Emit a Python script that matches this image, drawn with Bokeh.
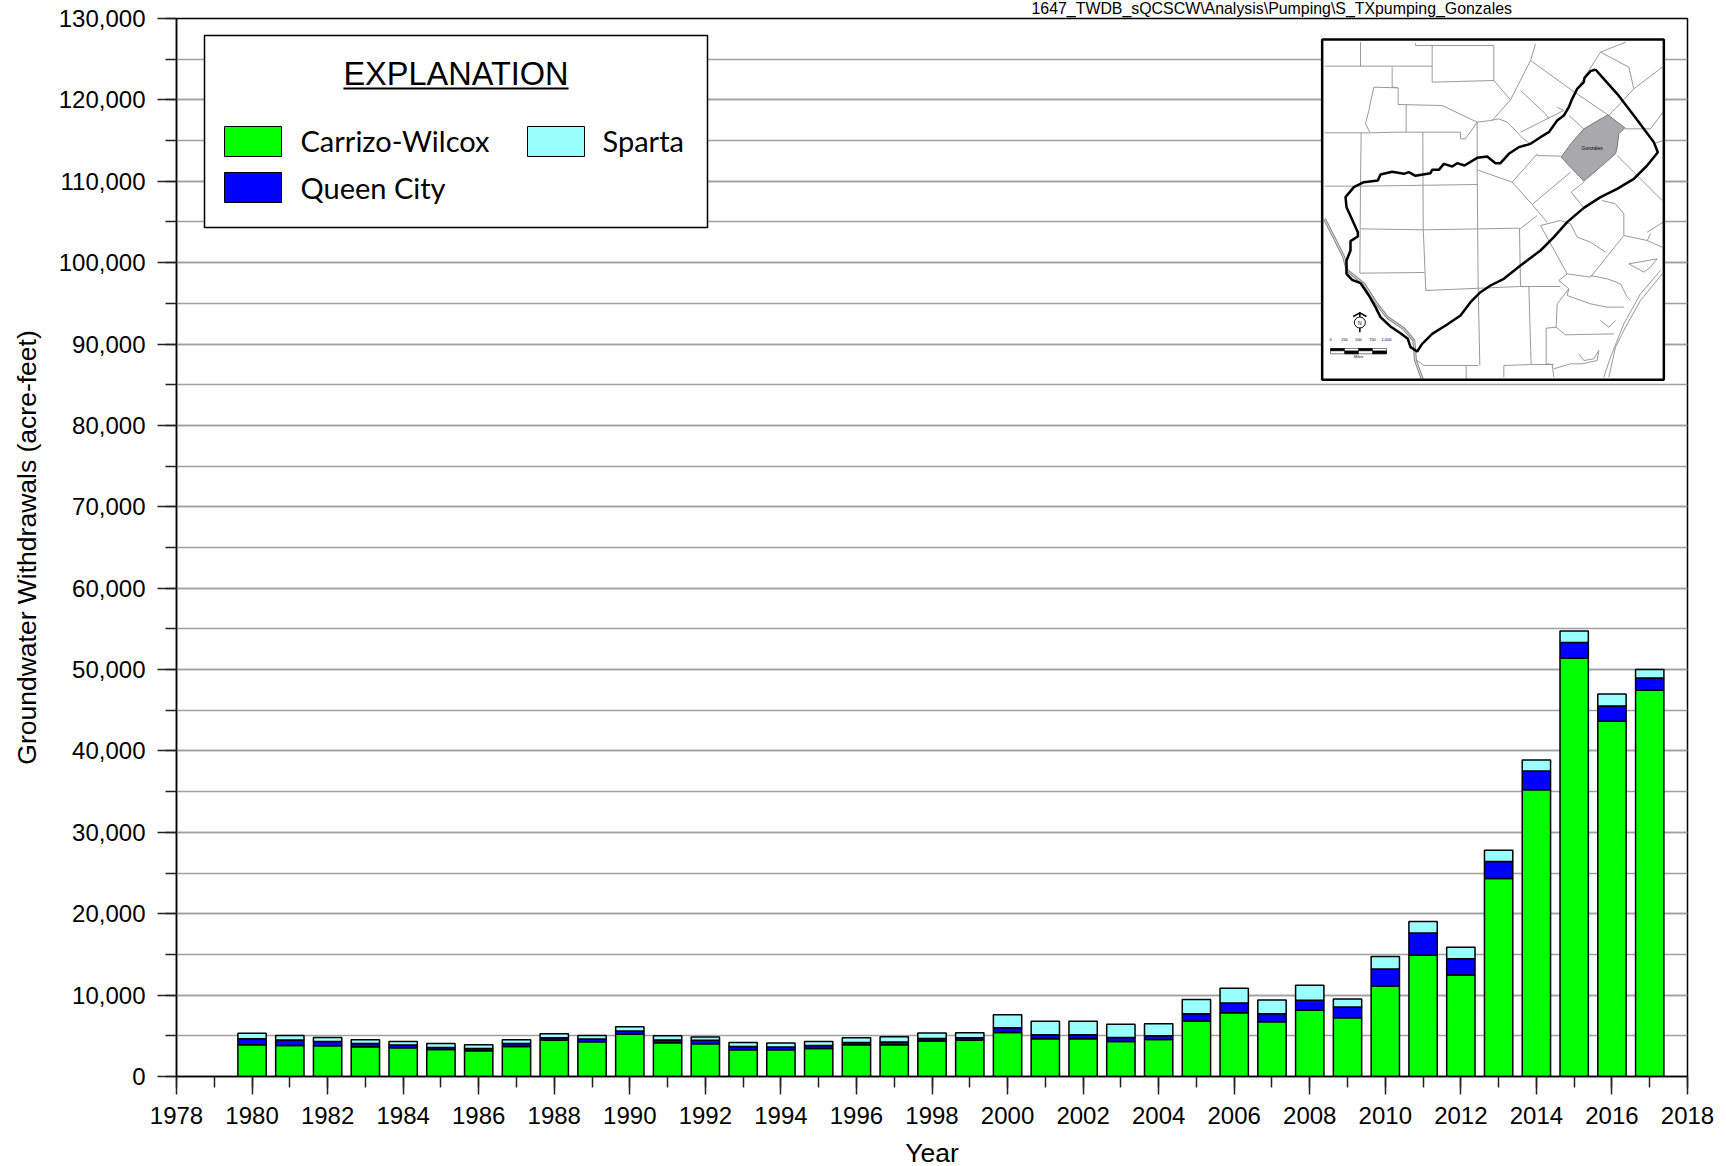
from bokeh.plotting import figure
from bokeh.embed import file_html
from bokeh.resources import INLINE
from bokeh.models import Range1d, SingleIntervalTicker, NumeralTickFormatter, Title
from bokeh.core.properties import value

years = list(range(1980, 2018))
carrizo_wilcox = [3900,3820,3780,3650,3530,3330,3160,3700,4440,4270,5220,4150,4020,3290,3290,3450,3900,3900,4350,4440,
                  5420,4640,4640,4310,4560,6820,7840,6740,8130,7230,11130,14910,12480,24320,35240,51430,43660,47450]
queen_city = [740,660,530,420,330,240,290,370,320,330,370,330,420,410,320,370,290,330,330,320,
              580,490,490,490,450,900,1190,980,1230,1310,2090,2710,1980,2090,2300,1900,1850,1520]
sparta = [660,570,490,450,450,500,450,450,500,450,530,530,410,490,500,490,570,660,660,620,
          1600,1650,1650,1610,1480,1730,1810,1680,1850,990,1520,1440,1430,1400,1360,1400,1480,1030]
series_names = ["Carrizo-Wilcox", "Queen City", "Sparta"]
series_colors = ["#00FF00", "#0000FF", "#99FFFF"]
header_text = "1647_TWDB_sQCSCW\\Analysis\\Pumping\\S_TXpumping_Gonzales"

# Locator map geometry, in the inset's own coordinates
boundary = [(885,207),(870,212),(852,232),(850,245),(830,265),(815,295),(805,320),(790,345),(770,360),(745,395),(720,410),
 (690,430),(655,440),(625,460),(600,488),(585,488),(560,468),(530,472),(492,495),(470,488),(455,498),(430,490),(415,508),(395,508),
 (390,518),(345,526),(325,515),(310,520),(275,514),(240,522),(232,540),(190,545),(160,560),(135,590),(138,620),(145,635),(172,695),(172,708),
 (150,722),(150,750),(138,780),(138,820),(155,838),(180,848),(205,885),(225,920),(240,950),(270,978),(300,998),(322,1015),
 (330,1040),(350,1053),(365,1030),(395,1000),(440,972),(480,945),(510,905),(540,875),(570,855),(610,835),(660,795),(720,750),
 (760,710),(800,665),(850,622),(900,590),(950,565),(1000,535),(1040,495),(1072,455),(1060,425),(1000,345),(950,280),(905,230),(885,207)]
gonzales = [(922,343),(973,382),(955,400),(950,440),(945,460),(905,495),(850,542),(782,470),(815,425),(850,385)]
rio_grande = [(72,655),(100,710),(130,770),(140,810),(190,850),(225,905),(260,950),(310,985),(340,1020),(345,1080),(365,1135)]
county_lines = [
 [(345,128),(345,135),(580,135)], [(180,125),(180,197)], [(72,197),(395,197)], [(395,135),(395,245),(580,240),(580,135)],
 [(275,200),(275,260),(293,262),(293,312),(425,315),(530,365)], [(220,260),(293,262)],
 [(220,260),(210,305),(205,330),(200,350),(195,370),(208,395)],
 [(317,312),(317,395)], [(72,397),(208,397),(290,395),(480,395),(480,415),(495,415),(530,365)], [(182,397),(180,555),(178,818)],
 [(367,395),(368,680),(376,870)], [(72,557),(180,557),(530,552)], [(530,365),(530,510),(533,860),(538,1095)],
 [(180,685),(370,688),(657,683),(660,858)], [(178,818),(372,816)], [(376,870),(657,858),(780,858)],
 [(530,508),(635,545),(695,612),(740,665)], [(635,545),(710,460)], [(695,612),(810,515)], [(710,465),(782,467)],
 [(530,365),(570,360),(595,355),(620,365),(650,395),(665,412),(690,430)], [(580,240),(630,298),(690,180),(815,270)],
 [(630,298),(575,360)], [(660,270),(735,340),(745,355)], [(660,395),(790,330),(770,320)],
 [(815,270),(925,345),(1000,265),(985,200),(900,155),(830,265)], [(690,180),(705,130)], [(900,155),(975,125)],
 [(1000,265),(1085,200)], [(973,385),(1050,385),(1088,335)], [(950,465),(1015,530),(1085,600)],
 [(812,575),(850,545)], [(812,575),(850,622)], [(655,688),(710,645)],
 [(720,675),(780,660),(810,670)], [(720,675),(800,820),(870,830),(970,705),(970,640),(945,610),(905,600)],
 [(810,670),(830,710),(870,725),(915,755)], [(970,705),(1040,720),(1085,740)], [(1040,695),(1088,665)],
 [(870,825),(920,835),(960,850),(980,890),(990,900)],
 [(800,820),(775,840),(805,865),(800,885),(870,910),(920,920),(970,920)],
 [(805,865),(770,910),(767,980),(737,983),(737,1090),(760,1092)], [(767,980),(795,1003),(940,1000)],
 [(685,858),(692,1092),(755,1092),(760,1130)], [(610,1095),(692,1092)], [(610,1095),(610,1130)],
 [(533,1095),(497,1095),(497,1135)], [(350,1080),(370,1095),(497,1095)],
 [(1080,810),(1020,880),(970,970),(930,1070),(910,1130)], [(1085,820),(1020,900),(975,980),(945,1040),(925,1130)],
 [(985,790),(1070,775),(1050,800),(1030,815),(985,790)], [(900,960),(925,980),(945,960)],
 [(760,1105),(810,1090),(845,1090),(890,1080),(895,1050),(880,1075),(850,1080),(835,1060)],
 [(1060,430),(1088,420)], [(850,385),(805,345)], [(1040,720),(1050,700)],
]
scale_labels = ["0", "250", "500", "750", "1,000"]
scale_label_x = [90, 132, 174, 216, 258]

ARIAL = "Liberation Sans"
FL, FR, FT, FB = 176, 1687, 18, 1076   # plot frame on the page
W, H = 1724, 1164

p = figure(width=W, height=H, output_backend="svg", toolbar_location=None,
           x_range=Range1d(1978, 2018), y_range=Range1d(0, 130000),
           frame_width=FR-FL, frame_height=FB-FT,
           min_border_left=FL, min_border_right=W-FR, min_border_top=FT, min_border_bottom=H-FB,
           outline_line_color="black", outline_line_width=1.5, background_fill_color="white",
           title=Title(text=header_text, align="left", offset=1031-FL, standoff=0, vertical_align="top",
                       text_font=ARIAL, text_font_size="15.9px", text_font_style="normal", text_color="black",
                       text_line_height=0.7))
p.styles = {"margin-top": "-1px"}

# page-pixel and map coordinate systems for the legend and the inset
p.extra_x_ranges["page_x"] = Range1d(FL, FR)
p.extra_y_ranges["page_y"] = Range1d(FB, FT)
p.extra_x_ranges["map_x"] = Range1d((FL-1300)*3, (FR-1300)*3)
p.extra_y_ranges["map_y"] = Range1d(FB*3, FT*3)

for ax, tick in ((p.xaxis[0], 2), (p.yaxis[0], 10000)):
    ax.ticker = SingleIntervalTicker(interval=tick, num_minor_ticks=2)
    ax.axis_line_color = "black"; ax.axis_line_width = 1.5
    ax.major_tick_line_color = "#222222"; ax.minor_tick_line_color = "#222222"
    ax.major_tick_line_width = 1.5; ax.minor_tick_line_width = 1.5
    ax.major_tick_in = 0; ax.minor_tick_in = 0
    ax.major_label_text_font = ARIAL; ax.major_label_text_font_size = "24px"
    ax.major_label_text_color = "black"
    ax.axis_label_text_font = ARIAL; ax.axis_label_text_font_size = "26.5px"
    ax.axis_label_text_font_style = "normal"; ax.axis_label_text_color = "black"
p.yaxis[0].major_tick_out = 19; p.yaxis[0].minor_tick_out = 11
p.xaxis[0].major_tick_out = 18; p.xaxis[0].minor_tick_out = 11
p.yaxis[0].major_label_standoff = 12
p.xaxis[0].major_label_standoff = 12
p.yaxis[0].formatter = NumeralTickFormatter(format="0,0")
p.xaxis[0].axis_label = "Year"; p.xaxis[0].axis_label_standoff = 11
p.yaxis[0].axis_label = "Groundwater Withdrawals (acre-feet)"; p.yaxis[0].axis_label_standoff = 14

p.xgrid.visible = False
p.ygrid.ticker = SingleIntervalTicker(interval=10000, num_minor_ticks=2)
p.ygrid.grid_line_color = "#a0a0a0"; p.ygrid.grid_line_width = 1.5
p.ygrid.minor_grid_line_color = "#a0a0a0"; p.ygrid.minor_grid_line_width = 1.5

# stacked bars
data = dict(year=years, **{series_names[0]: carrizo_wilcox, series_names[1]: queen_city, series_names[2]: sparta})
p.vbar_stack(series_names, x="year", width=0.75, color=series_colors, line_color="black", line_width=1.5, source=data)

# legend box
pg = dict(x_range_name="page_x", y_range_name="page_y")
p.quad(left=[204], right=[707], top=[35], bottom=[227], fill_color="white", line_color="black", line_width=1.5, **pg)
swatch_left = [224, 224, 527]
swatch_top = [126, 172, 126]
p.quad(left=swatch_left, right=[s+57 for s in swatch_left], top=swatch_top, bottom=[s+30 for s in swatch_top],
       fill_color=series_colors, line_color="black", line_width=1, **pg)
p.text(x=[300, 300, 602], y=[140, 187, 140], text=series_names, text_font=value("Lato"), text_font_size="29px",
       text_color="black", text_baseline="middle", text_align="left", **pg)
p.text(x=[455.5], y=[73], text=["EXPLANATION"], text_font=value(ARIAL), text_font_size="32.5px",
       text_color="black", text_baseline="middle", text_align="center", **pg)
p.line(x=[343, 568], y=[88, 88], line_color="black", line_width=2, **pg)

# locator map
mp = dict(x_range_name="map_x", y_range_name="map_y")
p.quad(left=[65], right=[1090], top=[117], bottom=[1138], fill_color="white", line_color=None, **mp)
p.multi_line(xs=[[q[0] for q in l] for l in county_lines], ys=[[q[1] for q in l] for l in county_lines],
             line_color="#999999", line_width=1, **mp)
p.line(x=[q[0] for q in rio_grande], y=[q[1] for q in rio_grande], line_color="#888888", line_width=3, **mp)
p.line(x=[q[0] for q in rio_grande], y=[q[1] for q in rio_grande], line_color="#dddddd", line_width=1, **mp)
p.patch(x=[q[0] for q in gonzales], y=[q[1] for q in gonzales], fill_color="#a9a9ad", line_color="#777777", line_width=1, **mp)
p.text(x=[875], y=[441], text=["Gonzales"], text_font=value(ARIAL), text_font_size="5px", text_color="black",
       text_align="center", text_baseline="middle", **mp)
p.line(x=[q[0] for q in boundary], y=[q[1] for q in boundary], line_color="black", line_width=2.5, **mp)
p.quad(left=[65], right=[1090], top=[117], bottom=[1138], fill_color=None, line_color="black", line_width=2.5, **mp)
# north arrow and scale bar
p.line(x=[178, 178], y=[935, 995], line_color="black", line_width=1.5, **mp)
p.line(x=[158, 178, 198], y=[948, 937, 948], line_color="black", line_width=1.5, **mp)
p.circle(x=[178], y=[966], radius=5.5, radius_units="screen", fill_color="white", line_color="black", line_width=1, **mp)
p.text(x=[178], y=[966], text=["N"], text_font=value(ARIAL), text_font_size="5px", text_align="center", text_baseline="middle", text_color="black", **mp)
p.quad(left=[90, 132, 174, 216], right=[132, 174, 216, 258], top=[1044, 1051, 1044, 1051], bottom=[1051, 1060, 1051, 1060],
       fill_color="black", line_color="black", line_width=0.5, **mp)
p.quad(left=[90], right=[258], top=[1044], bottom=[1060], fill_color=None, line_color="black", line_width=0.5, **mp)
p.text(x=scale_label_x, y=[1018]*5, text=scale_labels, text_font=value(ARIAL), text_font_size="4px",
       text_align="center", text_baseline="middle", text_color="black", **mp)
p.text(x=[174], y=[1068], text=["Miles"], text_font=value(ARIAL), text_font_size="4px",
       text_align="center", text_baseline="middle", text_color="black", **mp)

open("out.html", "w").write(file_html(p, INLINE))
